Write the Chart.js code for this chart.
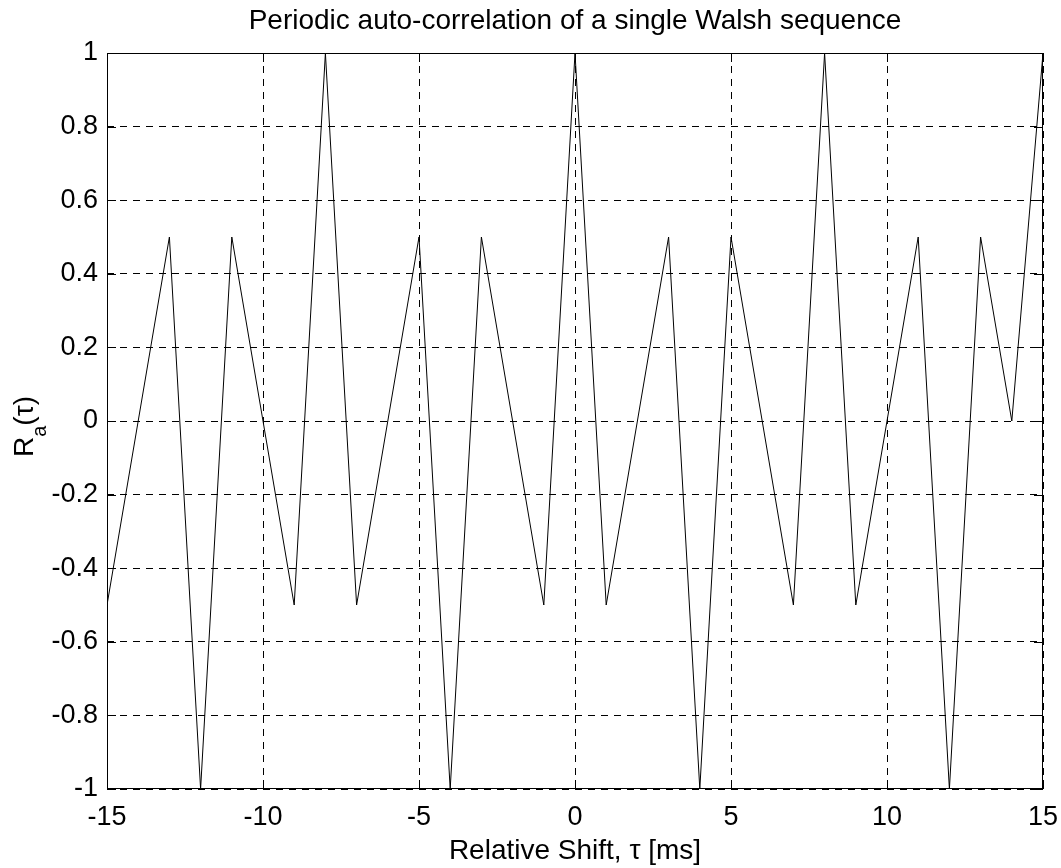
<!DOCTYPE html>
<html>
<head>
<meta charset="utf-8">
<script src="https://cdn.jsdelivr.net/npm/chart.js@4/dist/chart.umd.min.js"></script>
<style>
  body { margin: 0; background: #fff; }
  canvas { display: block; }
</style>
</head>
<body>
<canvas id="corrChart" width="1061" height="868"></canvas>
<script>
// data
const tau = [-15, -14, -13, -12, -11, -10, -9, -8, -7, -6, -5, -4, -3, -2, -1, 0,
             1, 2, 3, 4, 5, 6, 7, 8, 9, 10, 11, 12, 13, 14, 15];
const ra = [-0.5, 0, 0.5, -1, 0.5, 0, -0.5, 1, -0.5, 0, 0.5, -1, 0.5, 0, -0.5, 1,
            -0.5, 0, 0.5, -1, 0.5, 0, -0.5, 1, -0.5, 0, 0.5, -1, 0.5, 0, 1];

const xTicks = [-15, -10, -5, 0, 5, 10, 15];
const xTickLabels = ['-15', '-10', '-5', '0', '5', '10', '15'];
const yTicks = [-1, -0.8, -0.6, -0.4, -0.2, 0, 0.2, 0.4, 0.6, 0.8, 1];
const yTickLabels = ['-1', '-0.8', '-0.6', '-0.4', '-0.2', '0', '0.2', '0.4', '0.6', '0.8', '1'];

const FONT = 'Liberation Sans, Arial, sans-serif';

// axes box, inward tick marks and the R_a(tau) label
const framePlugin = {
    id: 'frame',
    afterDraw(chart) {
        const ctx = chart.ctx;
        const a = chart.chartArea;
        const x = chart.scales.x, y = chart.scales.y;
        ctx.save();
        ctx.strokeStyle = '#000';
        ctx.lineWidth = 1;
        ctx.setLineDash([]);
        ctx.strokeRect(a.left + 0.5, a.top + 0.5, a.right - a.left - 1, a.bottom - a.top - 1);
        const tl = 9;
        ctx.beginPath();
        xTicks.forEach(function (v) {
            const px = Math.round(x.getPixelForValue(v)) + 0.5;
            ctx.moveTo(px, a.bottom); ctx.lineTo(px, a.bottom - tl);
            ctx.moveTo(px, a.top); ctx.lineTo(px, a.top + tl);
        });
        yTicks.forEach(function (v) {
            const py = Math.round(y.getPixelForValue(v)) + 0.5;
            ctx.moveTo(a.left, py); ctx.lineTo(a.left + tl, py);
            ctx.moveTo(a.right, py); ctx.lineTo(a.right - tl, py);
        });
        ctx.stroke();

        // y label with subscript, drawn bottom to top
        ctx.fillStyle = '#000';
        ctx.textBaseline = 'alphabetic';
        ctx.textAlign = 'left';
        ctx.translate(33, 457);
        ctx.rotate(-Math.PI / 2);
        let sx = 0;
        ctx.font = '28px ' + FONT;
        ctx.fillText('R', sx, 0);
        sx += ctx.measureText('R').width;
        ctx.font = '20px ' + FONT;
        ctx.fillText('a', sx, 13);
        sx += ctx.measureText('a').width;
        ctx.font = '28px ' + FONT;
        ctx.fillText('(\u03c4)', sx, 0);
        ctx.restore();
    }
};

const ctx = document.getElementById('corrChart').getContext('2d');
const corrChart = new Chart(ctx, {
    type: 'line',
    data: {
        datasets: [{
            data: tau.map(function (t, i) { return { x: t, y: ra[i] }; }),
            borderColor: '#000',
            borderWidth: 1,
            pointRadius: 0,
            tension: 0,
            fill: false
        }]
    },
    options: {
        responsive: false,
        animation: false,
        devicePixelRatio: 1,
        layout: { padding: { left: 0, right: 18, top: 0, bottom: 0 } },
        plugins: {
            legend: { display: false },
            tooltip: { enabled: false },
            title: {
                display: true,
                text: 'Periodic auto-correlation of a single Walsh sequence',
                color: '#000',
                fullSize: false,
                font: { family: FONT, size: 28, weight: 'normal' },
                padding: { top: 4, bottom: 15.4 }
            }
        },
        scales: {
            x: {
                type: 'linear',
                min: -15,
                max: 15,
                afterFit: function (scale) {
                    scale.height = 79;
                    scale.paddingLeft = 0;
                    scale.paddingRight = 0;
                },
                afterBuildTicks: function (scale) {
                    scale.ticks = xTicks.map(function (v) { return { value: v }; });
                },
                ticks: {
                    color: '#000',
                    font: { family: FONT, size: 27 },
                    padding: 12,
                    maxRotation: 0,
                    autoSkip: false,
                    callback: function (value, index) { return xTickLabels[index]; }
                },
                grid: {
                    color: '#000',
                    lineWidth: 1,
                    drawTicks: false
                },
                border: { display: false, dash: [7, 6] },
                title: {
                    display: true,
                    text: 'Relative Shift, \u03c4 [ms]',
                    color: '#000',
                    font: { family: FONT, size: 28 },
                    padding: { top: 0, bottom: 0 }
                }
            },
            y: {
                min: -1,
                max: 1,
                afterFit: function (scale) {
                    scale.width = 107;
                    scale.paddingTop = 0;
                    scale.paddingBottom = 0;
                },
                afterBuildTicks: function (scale) {
                    scale.ticks = yTicks.map(function (v) { return { value: v }; });
                },
                ticks: {
                    color: '#000',
                    font: { family: FONT, size: 27 },
                    padding: 9,
                    autoSkip: false,
                    callback: function (value, index) { return yTickLabels[index]; }
                },
                grid: {
                    color: '#000',
                    lineWidth: 1,
                    drawTicks: false
                },
                border: { display: false, dash: [7, 6] }
            }
        }
    },
    plugins: [framePlugin]
});
</script>
</body>
</html>
